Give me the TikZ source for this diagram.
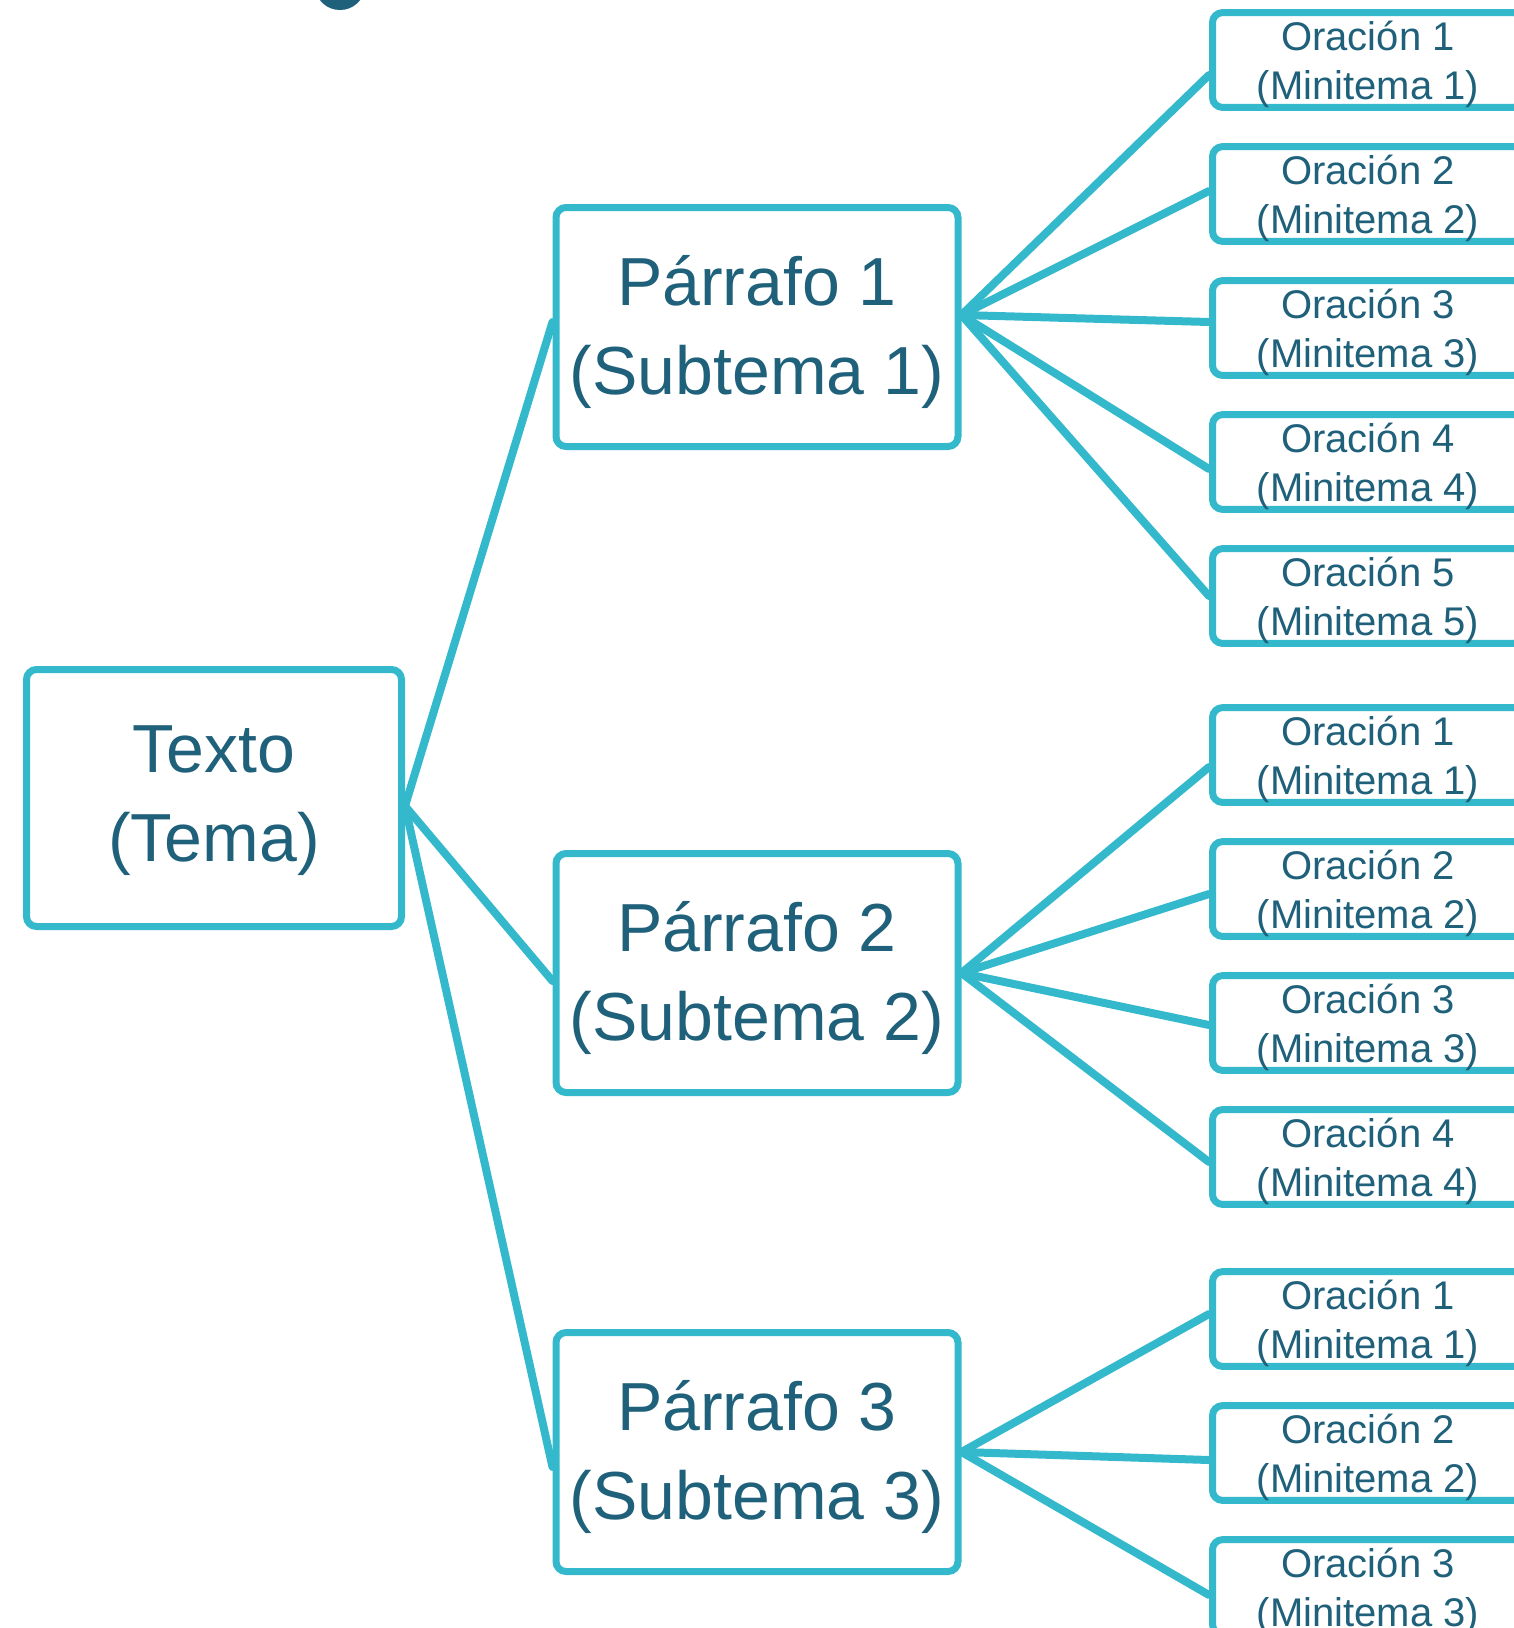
\documentclass[tikz,border=0pt]{standalone}
\usepackage{fontspec}
\setmainfont{Liberation Sans}
\definecolor{lineC}{RGB}{52,185,204}
\definecolor{textC}{RGB}{31,96,122}
\newcommand{\strutA}[1]{\rule{0pt}{#1}}
\begin{document}
\begin{tikzpicture}[x=1pt,y=-1pt,
  box/.style={draw=lineC, line width=7pt, rounded corners=10pt, fill=white, align=center, text=textC, inner sep=0pt},
  bigbox/.style={box, font=\fontsize{68}{89}\selectfont},
  smallbox/.style={box, minimum width=311pt, minimum height=87pt, font=\fontsize{40}{49}\selectfont},
  link/.style={draw=lineC, line width=8pt, line cap=round}]
\useasboundingbox (0,0) rectangle (1514,1628);
\clip (0,0) rectangle (1514,1628);
\fill[textC] (340,-12) ellipse [x radius=24, y radius=22];
% main nodes
\node[bigbox, minimum width=375pt, minimum height=257pt] (texto) at (214,798) {\strutA{53pt}Texto\\(Tema)};
\node[bigbox, minimum width=402pt, minimum height=239pt] (p1) at (757,327) {\strutA{60pt}Párrafo 1\\(Subtema 1)};
\node[bigbox, minimum width=402pt, minimum height=239pt] (p2) at (757,973) {\strutA{60pt}Párrafo 2\\(Subtema 2)};
\node[bigbox, minimum width=402pt, minimum height=239pt] (p3) at (757,1452) {\strutA{60pt}Párrafo 3\\(Subtema 3)};
% minitema nodes
\node[smallbox] (a1) at (1368,60) {\strutA{37.5pt}Oración 1\\(Minitema 1)};
\node[smallbox] (a2) at (1368,194) {\strutA{37.5pt}Oración 2\\(Minitema 2)};
\node[smallbox] (a3) at (1368,328) {\strutA{37.5pt}Oración 3\\(Minitema 3)};
\node[smallbox] (a4) at (1368,462) {\strutA{37.5pt}Oración 4\\(Minitema 4)};
\node[smallbox] (a5) at (1368,596) {\strutA{37.5pt}Oración 5\\(Minitema 5)};
\node[smallbox] (b1) at (1368,755) {\strutA{37.5pt}Oración 1\\(Minitema 1)};
\node[smallbox] (b2) at (1368,889) {\strutA{37.5pt}Oración 2\\(Minitema 2)};
\node[smallbox] (b3) at (1368,1023) {\strutA{37.5pt}Oración 3\\(Minitema 3)};
\node[smallbox] (b4) at (1368,1157) {\strutA{37.5pt}Oración 4\\(Minitema 4)};
\node[smallbox] (c1) at (1368,1319) {\strutA{37.5pt}Oración 1\\(Minitema 1)};
\node[smallbox] (c2) at (1368,1453) {\strutA{37.5pt}Oración 2\\(Minitema 2)};
\node[smallbox] (c3) at (1368,1587) {\strutA{37.5pt}Oración 3\\(Minitema 3)};
% connectors
\coordinate (t0) at ([yshift=-8pt]texto.east);
\draw[link] (t0) -- ([yshift=5pt]p1.west);
\draw[link] (t0) -- ([yshift=-8pt]p2.west);
\draw[link] (t0) -- ([yshift=-15pt]p3.west);
\coordinate (p1o) at ([yshift=12pt]p1.east);
\draw[link] (p1o) -- ([yshift=-15pt]a1.west);
\draw[link] (p1o) -- ([yshift=3pt]a2.west);
\draw[link] (p1o) -- ([yshift=6pt]a3.west);
\draw[link] (p1o) -- ([yshift=-7pt]a4.west);
\draw[link] (p1o) -- (a5.west);
\draw[link] (p2.east) -- ([yshift=-12pt]b1.west);
\draw[link] (p2.east) -- ([yshift=-5pt]b2.west);
\draw[link] (p2.east) -- ([yshift=-2pt]b3.west);
\draw[link] (p2.east) -- ([yshift=-5pt]b4.west);
\draw[link] (p3.east) -- ([yshift=5pt]c1.west);
\draw[link] (p3.east) -- ([yshift=-7pt]c2.west);
\draw[link] (p3.east) -- ([yshift=-8pt]c3.west);
\end{tikzpicture}
\end{document}
